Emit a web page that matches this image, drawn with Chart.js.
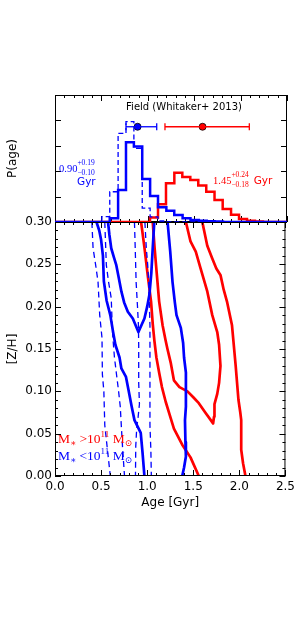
<!DOCTYPE html>
<html><head><meta charset="utf-8">
<script src="https://cdn.jsdelivr.net/npm/chart.js@4.4.1/dist/chart.umd.min.js"></script>
<style>
html,body{margin:0;padding:0;background:#fff;}
#wrap{position:relative;width:299px;height:635px;overflow:hidden;background:#fff;}
#cBot{position:absolute;left:0;top:200px;}
#cTop{position:absolute;left:0;top:0;}
</style></head><body>
<div id="wrap"><canvas id="cBot" width="299" height="435"></canvas><canvas id="cTop" width="299" height="230"></canvas></div>
<script>
// ---------- tick values ----------
const xMajorTicks = [0.0, 0.5, 1.0, 1.5, 2.0, 2.5];
const xMinorTicks = [0.1,0.2,0.3,0.4,0.6,0.7,0.8,0.9,1.1,1.2,1.3,1.4,1.6,1.7,1.8,1.9,2.1,2.2,2.3,2.4];
const zhMajorTicks = [0.00, 0.05, 0.10, 0.15, 0.20, 0.25, 0.30];
const zhMinorTicks = [0.01,0.02,0.03,0.04,0.06,0.07,0.08,0.09,0.11,0.12,0.13,0.14,0.16,0.17,0.18,0.19,0.21,0.22,0.23,0.24,0.26,0.27,0.28,0.29];
const pMajorTicks = [0, 1, 2, 3, 4, 5];

// ---------- age histograms (upper panel) ----------
const blueSolidEdges = [0.59,0.68,0.765,0.85,0.94,1.025,1.11,1.20,1.285,1.375,1.46,1.55,1.635,1.72,1.81];
const blueSolidP     = [0.15,1.26,3.14,2.97,1.69,1.02,0.58,0.44,0.28,0.15,0.08,0.05,0.03,0.02];
const blueDashEdges  = [0.505,0.59,0.68,0.765,0.85,0.94,1.025,1.11,1.20];
const blueDashP      = [0.21,1.19,3.49,3.95,2.90,0.55,0.20,0.04];
const redEdges = [1.024,1.110,1.196,1.286,1.372,1.458,1.544,1.630,1.719,1.807,1.897,1.983,2.069,2.155,2.241];
const redP     = [0.18,0.70,1.53,1.94,1.77,1.65,1.44,1.19,0.87,0.51,0.29,0.12,0.05,0.02];

// field (Whitaker+ 2013) points: [age, low, high]
const fieldBlue = [0.89, 0.765, 1.096];
const fieldRed  = [1.59, 1.185, 2.094];
const fieldLevel = 3.75;

// ---------- [Z/H] vs age contours (lower panel): [age, Z/H] ----------
const blueSolidA = [[0.45,0.30],[0.48,0.29],[0.50,0.279],[0.52,0.26],[0.53,0.23],[0.56,0.207],[0.60,0.19],[0.63,0.17],[0.655,0.155],[0.70,0.14],[0.72,0.127],[0.77,0.117],[0.80,0.10],[0.83,0.083],[0.862,0.066],[0.93,0.051],[0.95,0.027],[0.97,0.0]];
const blueSolidB = [[0.575,0.30],[0.59,0.285],[0.61,0.269],[0.64,0.258],[0.665,0.249],[0.69,0.235],[0.72,0.218],[0.75,0.205],[0.79,0.194],[0.844,0.186],[0.905,0.170],[0.97,0.186],[1.0,0.20],[1.024,0.214],[1.045,0.24],[1.06,0.269],[1.077,0.30]];
const blueSolidC = [[1.221,0.30],[1.25,0.265],[1.275,0.229],[1.30,0.205],[1.318,0.19],[1.365,0.175],[1.39,0.157],[1.40,0.14],[1.42,0.122],[1.42,0.082],[1.41,0.066],[1.415,0.04],[1.42,0.023],[1.40,0.01],[1.38,0.0]];
const redSolidA = [[0.934,0.30],[0.97,0.27],[1.006,0.237],[1.042,0.206],[1.06,0.18],[1.078,0.16],[1.10,0.14],[1.13,0.122],[1.16,0.105],[1.20,0.088],[1.245,0.072],[1.29,0.056],[1.38,0.037],[1.47,0.022],[1.56,0.0]];
const redSolidB = [[1.06,0.30],[1.08,0.27],[1.096,0.249],[1.13,0.206],[1.167,0.178],[1.20,0.16],[1.22,0.15],[1.257,0.133],[1.29,0.113],[1.35,0.105],[1.437,0.10],[1.50,0.093],[1.56,0.086],[1.63,0.075],[1.69,0.066],[1.715,0.062],[1.725,0.07],[1.73,0.085],[1.76,0.097],[1.78,0.11],[1.795,0.13],[1.78,0.155],[1.76,0.17],[1.706,0.19],[1.652,0.218],[1.58,0.245],[1.527,0.265],[1.47,0.277],[1.42,0.30]];
const redSolidC = [[1.598,0.30],[1.652,0.272],[1.706,0.257],[1.75,0.245],[1.796,0.237],[1.83,0.22],[1.868,0.205],[1.92,0.178],[1.96,0.13],[1.99,0.09],[2.01,0.075],[2.02,0.066],[2.02,0.031],[2.04,0.015],[2.066,0.0]];
const blueDashA = [[0.40,0.30],[0.413,0.269],[0.44,0.25],[0.467,0.229],[0.485,0.19],[0.51,0.163],[0.514,0.12],[0.53,0.10],[0.54,0.06],[0.56,0.04],[0.59,0.01],[0.60,0.0]];
const blueDashB = [[0.54,0.30],[0.557,0.249],[0.58,0.23],[0.61,0.21],[0.62,0.18],[0.628,0.163],[0.645,0.14],[0.665,0.122],[0.69,0.10],[0.708,0.082],[0.72,0.058],[0.735,0.03],[0.754,0.0]];
const blueDashC = [[0.862,0.30],[0.87,0.27],[0.88,0.229],[0.895,0.20],[0.905,0.178],[0.908,0.155],[0.908,0.11],[0.916,0.085],[0.90,0.068],[0.887,0.058],[0.876,0.035],[0.873,0.0]];
const blueDashD = [[0.975,0.30],[0.99,0.27],[1.006,0.249],[1.016,0.229],[1.03,0.178],[1.03,0.12],[1.03,0.06],[1.04,0.03],[1.045,0.0]];

const BLUE = '#0000ff', RED = '#ff0000';
const SANS = '"DejaVu Sans", sans-serif';
const SERIF = '"Liberation Serif", "DejaVu Serif", serif';

function pts(arr){ return arr.map(p => ({x:p[0], y:p[1]})); }
function histPts(edges, vals){
  const out = [{x:0, y:0}, {x:edges[0], y:0}];
  vals.forEach((v,i) => out.push({x:edges[i], y:v}, {x:edges[i+1], y:v}));
  out.push({x:edges[edges.length-1], y:0});
  out.push({x:2.5, y:0});
  return out;
}
function runs(ctx, x, y, list){
  let cx = x;
  list.forEach(r => {
    ctx.font = r.f; ctx.fillStyle = r.c;
    if (r.sup !== undefined){
      ctx.fillText(r.sup, cx, y + r.dUp);
      ctx.fillText(r.sub, cx, y + r.dDn);
      cx += Math.max(ctx.measureText(r.sup).width, ctx.measureText(r.sub).width);
    } else {
      ctx.fillText(r.t, cx, y + (r.dy||0));
      cx += ctx.measureText(r.t).width;
    }
  });
  return cx;
}
function drawFrameTicks(chart, xMaj, xMin, yMaj, yMin){
  const {ctx, chartArea:a, scales} = chart;
  const xs = scales.x, ys = scales.y;
  ctx.save();
  ctx.strokeStyle = '#000'; ctx.lineWidth = 1;
  ctx.strokeRect(a.left + 0.5, a.top + 0.5, a.right - a.left - 1, a.bottom - a.top - 1);
  ctx.beginPath();
  const xt = (vals, len) => vals.forEach(v => {
    const p = Math.round(xs.getPixelForValue(v)) + 0.5;
    ctx.moveTo(p, a.bottom); ctx.lineTo(p, a.bottom - len);
    ctx.moveTo(p, a.top); ctx.lineTo(p, a.top + len);
  });
  const yt = (vals, len) => vals.forEach(v => {
    const p = Math.round(ys.getPixelForValue(v)) + 0.5;
    ctx.moveTo(a.left, p); ctx.lineTo(a.left + len, p);
    ctx.moveTo(a.right, p); ctx.lineTo(a.right - len, p);
  });
  xt(xMaj, 6); xt(xMin, 3); yt(yMaj, 6); yt(yMin, 3);
  ctx.stroke();
  ctx.restore();
}

// ---------- lower panel ----------
const solid = (d, c) => ({data: pts(d), showLine: true, borderColor: c, borderWidth: 2.7, pointRadius: 0, fill: false, borderJoinStyle: 'round'});
const dashed = (d) => ({data: pts(d), showLine: true, borderColor: BLUE, borderWidth: 1.3, borderDash: [6,4], pointRadius: 0, fill: false});

new Chart(document.getElementById('cBot'), {
  type: 'scatter',
  data: { datasets: [
    dashed(blueDashA), dashed(blueDashB), dashed(blueDashC), dashed(blueDashD),
    solid(blueSolidA, BLUE), solid(blueSolidB, BLUE), solid(blueSolidC, BLUE),
    solid(redSolidA, RED), solid(redSolidB, RED), solid(redSolidC, RED)
  ]},
  options: {
    responsive: false, animation: false, devicePixelRatio: 1,
    layout: { padding: {left: 0, right: 12, top: 22, bottom: 123} },
    plugins: { legend: {display: false}, tooltip: {enabled: false} },
    scales: {
      x: { type: 'linear', min: 0, max: 2.5,
        afterBuildTicks: s => { s.ticks = xMajorTicks.map(v => ({value: v})); },
        afterFit: s => { s.height = 36; },
        grid: {display: false, drawTicks: false}, border: {display: false},
        ticks: {color: '#000', font: {family: SANS, size: 12}, padding: 4, maxRotation: 0, callback: v => Number(v).toFixed(1)},
        title: {display: true, text: 'Age [Gyr]', color: '#000', font: {family: SANS, size: 12}, padding: {top: 0, bottom: 2}}
      },
      y: { type: 'linear', min: 0, max: 0.30,
        afterBuildTicks: s => { s.ticks = zhMajorTicks.map(v => ({value: v})); },
        afterFit: s => { s.width = 55; },
        grid: {display: false, drawTicks: false}, border: {display: false},
        ticks: {color: '#000', font: {family: SANS, size: 12}, padding: 3, callback: v => Number(v).toFixed(2)},
        title: {display: true, text: '[Z/H]', color: '#000', font: {family: SANS, size: 12}, padding: {top: 6, bottom: 0}}
      }
    }
  },
  plugins: [{
    id: 'botDeco',
    afterDraw(chart){
      drawFrameTicks(chart, xMajorTicks, xMinorTicks, zhMajorTicks, zhMinorTicks);
      const ctx = chart.ctx, a = chart.chartArea;
      ctx.save(); ctx.textBaseline = 'alphabetic';
      const big = '13.5px ' + SERIF, sm = '9px ' + SERIF;
      runs(ctx, a.left + 3, a.bottom - 33, [
        {t:'M', f:big, c:RED}, {t:'\u2217', f:sm, c:RED, dy:3}, {t:' >10', f:big, c:RED},
        {t:'11', f:sm, c:RED, dy:-6}, {t:' M', f:big, c:RED}, {t:'\u2299', f:sm, c:RED, dy:3}
      ]);
      runs(ctx, a.left + 3, a.bottom - 16, [
        {t:'M', f:big, c:BLUE}, {t:'\u2217', f:sm, c:BLUE, dy:3}, {t:' <10', f:big, c:BLUE},
        {t:'11', f:sm, c:BLUE, dy:-6}, {t:' M', f:big, c:BLUE}, {t:'\u2299', f:sm, c:BLUE, dy:3}
      ]);
      ctx.restore();
    }
  }]
});

// ---------- upper panel ----------
const errBar = (f, c) => ({data: [{x:f[1], y:fieldLevel}, {x:f[2], y:fieldLevel}], showLine: true, borderColor: c, borderWidth: 1.3,
  pointStyle: 'line', pointRotation: 90, pointRadius: 3.5, pointBorderColor: c, pointBorderWidth: 1.3, fill: false});
const marker = (f, c) => ({data: [{x:f[0], y:fieldLevel}], showLine: false, pointStyle: 'circle', pointRadius: 3.5,
  pointBackgroundColor: c, pointBorderColor: '#000', pointBorderWidth: 0.8});
const hist = (e, v, c, w, dash) => ({data: histPts(e, v), showLine: true, borderColor: c, borderWidth: w, borderDash: dash,
  pointRadius: 0, fill: false, borderJoinStyle: 'miter'});

new Chart(document.getElementById('cTop'), {
  type: 'scatter',
  data: { datasets: [
    hist(blueDashEdges, blueDashP, BLUE, 1.3, [5,3]),
    hist(blueSolidEdges, blueSolidP, BLUE, 2.5, []),
    hist(redEdges, redP, RED, 2.5, []),
    errBar(fieldBlue, BLUE), errBar(fieldRed, RED), marker(fieldBlue, BLUE), marker(fieldRed, RED)
  ]},
  options: {
    responsive: false, animation: false, devicePixelRatio: 1,
    layout: { padding: {left: 0, right: 12, top: 95, bottom: 8} },
    plugins: { legend: {display: false}, tooltip: {enabled: false} },
    scales: {
      x: { type: 'linear', min: 0, max: 2.5, display: false },
      y: { type: 'linear', min: 0, max: 5,
        afterFit: s => { s.width = 55; },
        grid: {display: false, drawTicks: false}, border: {display: false},
        ticks: {display: false},
        title: {display: true, text: 'P(age)', color: '#000', font: {family: SANS, size: 12}, padding: {top: 6, bottom: 0}}
      }
    }
  },
  plugins: [{
    id: 'topDeco',
    beforeDatasetsDraw(chart){
      drawFrameTicks(chart, xMajorTicks, xMinorTicks, pMajorTicks, []);
    },
    afterDraw(chart){
      const ctx = chart.ctx, a = chart.chartArea;
      ctx.save(); ctx.textBaseline = 'alphabetic';
      ctx.font = '10px ' + SANS; ctx.fillStyle = '#000'; ctx.textAlign = 'center';
      ctx.fillText('Field (Whitaker+ 2013)', a.left + 129, a.top + 15);
      ctx.textAlign = 'left';
      const num = '10.5px ' + SERIF, scr = '7.5px ' + SERIF, gyr = '10.5px ' + SANS;
      runs(ctx, a.left + 4, a.top + 77, [
        {t:'0.90', f:num, c:BLUE}, {sup:'+0.19', sub:'\u22120.10', f:scr, c:BLUE, dUp:-7, dDn:3}
      ]);
      runs(ctx, a.left + 22, a.top + 90, [{t:'Gyr', f:gyr, c:BLUE}]);
      const e = runs(ctx, a.left + 158, a.top + 89, [
        {t:'1.45', f:num, c:RED}, {sup:'+0.24', sub:'\u22120.18', f:scr, c:RED, dUp:-7, dDn:3}
      ]);
      runs(ctx, e + 5, a.top + 89, [{t:'Gyr', f:gyr, c:RED}]);
      ctx.restore();
    }
  }]
});
</script>
</body></html>
